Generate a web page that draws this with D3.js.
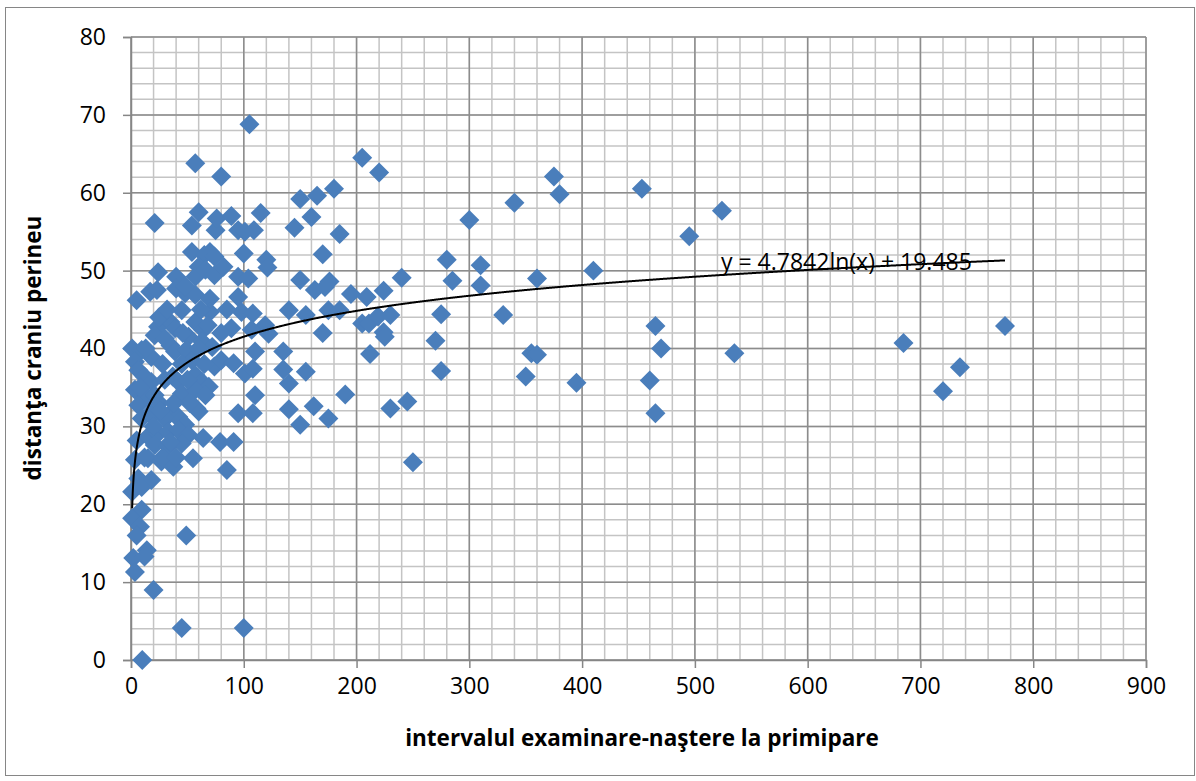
<!DOCTYPE html>
<html>
<head>
<meta charset="utf-8">
<script src="https://cdn.jsdelivr.net/npm/d3@7"></script>
<style>
  body { margin: 0; background: #fff; }
  text { font-family: "Open Sans", Lato, sans-serif; }
</style>
</head>
<body>
<div id="chart"></div>
<script>
// interval (x) and cranium-perineum distance (y)
const intervals = [
  300, 310, 310, 330, 340, 350, 355, 360, 360, 375, 380, 395, 410, 453, 460, 465, 465, 470, 495, 524, 535, 685, 720, 735, 775,
  270, 275, 275, 280, 285, 245, 250, 240,
  205, 220, 180, 150, 165, 160, 145, 185, 170, 115, 120, 121, 150, 163, 172, 176, 195, 209, 224, 140, 155, 175, 185,
  119, 122, 170, 205, 211, 219, 230, 224, 225, 212, 135, 135, 155, 140, 190, 140, 162, 150, 175, 230,
  105, 57, 80, 21, 60, 54, 75, 76, 89, 95, 101, 109, 54, 70, 100, 65, 74,
  24, 40, 60, 57, 66, 74, 82, 95, 104, 5, 17, 23, 40, 48, 57, 70, 70, 95, 98, 108, 45,
  24, 35, 39, 21, 30, 57, 64, 51, 63, 89, 107,
  1, 9.5, 18, 35, 39, 49, 54, 72, 74, 80, 91, 101, 108, 110, 3.5, 6.5, 12, 18, 37, 42, 57, 63, 69,
  3.5, 14, 21, 45, 57, 66, 110, 6.5, 17, 33, 42, 58, 95, 108,
  60, 9.5, 18, 30, 43.5, 48, 5, 15, 24, 33, 42, 51, 64, 79, 91, 21, 33, 45,
  3.5, 15, 27, 37.5, 55, 85, 6.5, 18, 1, 9.5, 9.5, 1, 8, 5, 49, 14, 2, 12, 3.5, 20, 45, 100, 10,
  25, 30, 28, 45, 50, 35, 28, 40, 12, 20, 26, 8, 13, 25, 32, 46, 52, 38, 60, 65, 68, 80, 85, 62, 48
];
const distances = [
  56.5, 50.7, 48.1, 44.3, 58.7, 36.4, 39.4, 39.2, 49, 62.1, 59.8, 35.6, 50, 60.5, 35.9, 42.9, 31.7, 40, 54.4, 57.7, 39.4, 40.7, 34.5, 37.6, 42.9,
  41, 44.4, 37.1, 51.4, 48.7, 33.2, 25.4, 49.1,
  64.5, 62.6, 60.5, 59.2, 59.6, 56.9, 55.5, 54.7, 52.1, 57.4, 51.4, 50.4, 48.8, 47.5, 47.9, 48.6, 47, 46.6, 47.4, 44.9, 44.3, 44.9, 44.9,
  43, 41.9, 42, 43.2, 43.2, 44.1, 44.3, 42.1, 41.5, 39.3, 39.6, 37.3, 37, 35.5, 34.1, 32.2, 32.6, 30.2, 31, 32.3,
  68.8, 63.8, 62.1, 56.1, 57.5, 55.8, 55.2, 56.7, 57, 55.2, 55, 55.2, 52.4, 52.4, 52.2, 52, 51.8,
  49.8, 49.2, 50.5, 49.2, 50.1, 49.4, 50.5, 49.2, 49, 46.2, 47.3, 47.5, 47.7, 47.1, 46.9, 46.4, 44.7, 46.6, 44.7, 44.5, 44.9,
  42.8, 43.4, 42.6, 41.7, 41.3, 43.4, 42.4, 41.5, 40.9, 42.6, 42.4,
  40, 39.8, 38.9, 40.4, 39.6, 39.8, 38.5, 40.2, 37.7, 38.5, 38.1, 36.8, 37.4, 39.6, 38.3, 37.2, 36.4, 35.7, 36.4, 35.7, 36.6, 35.7, 35.1,
  34.7, 33.8, 34, 34.2, 34.7, 34, 34, 32.7, 31.7, 31.4, 31.2, 32.3, 31.7, 31.7,
  31.9, 31, 31.4, 31, 30.8, 30.2, 28.2, 28.7, 29.1, 29.3, 29.5, 28.9, 28.5, 28, 28, 27.6, 27.4, 27.8,
  25.7, 25.9, 25.5, 24.8, 25.9, 24.4, 23.3, 23.1, 21.6, 22.2, 19.3, 18.2, 17.1, 16, 16, 14.1, 13.1, 13.3, 11.3, 9, 4.1, 4.1, 0,
  33, 36, 38, 38, 36, 28, 26, 26, 26, 30, 32, 35, 40, 44, 45, 42, 33, 33, 40, 38, 43, 42, 45, 45, 48
];

// logarithmic trendline from the chart label
const trendA = 4.7842;
const trendB = 19.485;
const trendLabel = "y = 4.7842ln(x) + 19.485";
const trendMaxX = 775;

const xTicks = [0, 100, 200, 300, 400, 500, 600, 700, 800, 900];
const yTicks = [0, 10, 20, 30, 40, 50, 60, 70, 80];

const W = 1196, H = 781;
const svg = d3.select("#chart").append("svg")
  .attr("width", W).attr("height", H);

// chart area border
svg.append("rect")
  .attr("x", 5.5).attr("y", 7.5)
  .attr("width", 1189).attr("height", 768)
  .attr("fill", "#fff").attr("stroke", "#868686").attr("stroke-width", 1);

const x = d3.scaleLinear().domain([0, 900]).range([131, 1146]);
const y = d3.scaleLinear().domain([0, 80]).range([660, 37]);

// minor gridlines
const grid = svg.append("g");
grid.selectAll(".mx").data(d3.range(0, 901, 20)).enter().append("line")
  .attr("x1", d => x(d)).attr("x2", d => x(d))
  .attr("y1", y(0)).attr("y2", y(80))
  .attr("stroke", "#c4c4c4").attr("stroke-width", 1.5);
grid.selectAll(".my").data(d3.range(0, 81, 2)).enter().append("line")
  .attr("x1", x(0)).attr("x2", x(900))
  .attr("y1", d => y(d)).attr("y2", d => y(d))
  .attr("stroke", "#c4c4c4").attr("stroke-width", 1.5);
// major gridlines
grid.selectAll(".Mx").data(xTicks).enter().append("line")
  .attr("x1", d => x(d)).attr("x2", d => x(d))
  .attr("y1", y(0)).attr("y2", y(80))
  .attr("stroke", "#8c8c8c").attr("stroke-width", 1.5);
grid.selectAll(".My").data(yTicks).enter().append("line")
  .attr("x1", x(0)).attr("x2", x(900))
  .attr("y1", d => y(d)).attr("y2", d => y(d))
  .attr("stroke", "#8c8c8c").attr("stroke-width", 1.5);

// axes
const xAxis = svg.append("g")
  .attr("transform", `translate(0,${y(0)})`)
  .call(d3.axisBottom(x).tickValues(xTicks).tickSize(8).tickPadding(10));
const yAxis = svg.append("g")
  .attr("transform", `translate(${x(0)},0)`)
  .call(d3.axisLeft(y).tickValues(yTicks).tickSize(8).tickPadding(17));
[xAxis, yAxis].forEach(a => {
  a.select(".domain").attr("stroke", "#868686").attr("stroke-width", 1.5);
  a.selectAll(".tick line").attr("stroke", "#868686").attr("stroke-width", 1.5);
  a.selectAll(".tick text").attr("fill", "#000")
    .style("font-family", "'Open Sans', Lato, sans-serif").style("font-size", "23px");
});

// points
const pts = intervals.map((v, i) => ({ x: v, y: distances[i] }));
const diamond = d3.symbol().type(d3.symbolSquare).size(200);
svg.append("g").selectAll("path").data(pts).enter().append("path")
  .attr("d", diamond)
  .attr("transform", d => `translate(${x(d.x)},${y(d.y)}) rotate(45)`)
  .attr("fill", "#4a7ebb");

// trendline
const trend = d3.range(1, trendMaxX + 0.5, 0.5).map(v => ({ x: v, y: trendA * Math.log(v) + trendB }));
svg.append("path")
  .datum(trend)
  .attr("d", d3.line().x(d => x(d.x)).y(d => y(d.y)))
  .attr("fill", "none").attr("stroke", "#000").attr("stroke-width", 2);

svg.append("text")
  .attr("x", 721).attr("y", 270)
  .style("font-size", "23px").attr("fill", "#000")
  .text(trendLabel);

// axis titles
svg.append("text")
  .attr("x", 642).attr("y", 746)
  .attr("text-anchor", "middle")
  .style("font-size", "22.5px").style("font-weight", "bold")
  .text("intervalul examinare-naştere la primipare");

svg.append("text")
  .attr("transform", "translate(41,348) rotate(-90)")
  .attr("text-anchor", "middle")
  .style("font-size", "22.5px").style("font-weight", "bold")
  .text("distanţa craniu perineu");
</script>
</body>
</html>
